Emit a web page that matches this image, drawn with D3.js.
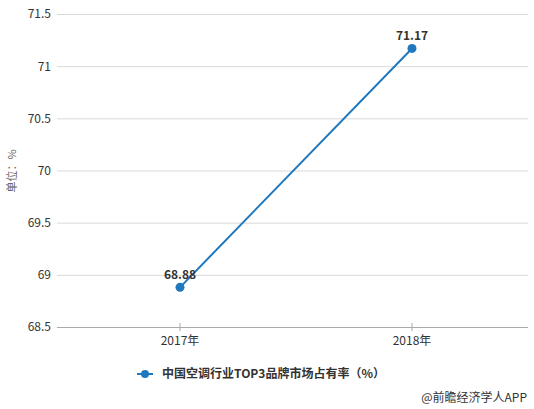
<!DOCTYPE html>
<html>
<head>
<meta charset="utf-8">
<script src="https://cdn.jsdelivr.net/npm/d3@7"></script>
<style>
  body { margin: 0; background: #fff; }
  text { font-family: "Microsoft YaHei", "Noto Sans CJK SC", sans-serif; }
</style>
</head>
<body>
<div id="chart"></div>
<script>
var years = ['2017年', '2018年'];
var shares = [68.88, 71.17];
var yTicks = [68.5, 69, 69.5, 70, 70.5, 71, 71.5];
var seriesName = '中国空调行业TOP3品牌市场占有率（%）';

var width = 534, height = 409;
var svg = d3.select('#chart')
  .append('svg')
  .attr('width', width)
  .attr('height', height);

var x = d3.scaleBand().domain(years).range([64, 528]);
var y = d3.scaleLinear().domain([68.5, 71.5]).range([327, 14]);

// grid + y labels
var axisY = d3.axisLeft(y).tickValues(yTicks).tickFormat(d3.format('')).tickSize(0).tickPadding(6);
var gy = svg.append('g')
  .attr('transform', 'translate(57,0)')
  .call(axisY);
gy.select('.domain').remove();
gy.selectAll('.tick line')
  .attr('x2', 471)
  .attr('stroke', '#d9d9d9');
gy.selectAll('.tick text')
  .attr('fill', '#333')
  .style('font-size', '12px');

// x axis
var axisX = d3.axisBottom(x).tickSize(5).tickPadding(4);
var gx = svg.append('g')
  .attr('transform', 'translate(0,327)')
  .call(axisX);
gx.select('.domain').attr('d', 'M57,0.5H528').attr('stroke', '#aaa');
gx.selectAll('.tick line').attr('stroke', '#aaa').attr('y1', -4).attr('y2', 4);
gx.selectAll('.tick text')
  .attr('fill', '#333')
  .style('font-size', '12px');

// y title
svg.append('text')
  .attr('transform', 'translate(16,171) rotate(-90)')
  .attr('text-anchor', 'middle')
  .attr('fill', '#666')
  .style('font-size', '11px')
  .text('单位：%');

var cx = function(d, i) { return x(years[i]) + x.bandwidth() / 2; };

var line = d3.line()
  .x(cx)
  .y(function(d) { return y(d); });

svg.append('path')
  .datum(shares)
  .attr('d', line)
  .attr('fill', 'none')
  .attr('stroke', '#1f78be')
  .attr('stroke-width', 2);

svg.selectAll('.dot')
  .data(shares)
  .enter()
  .append('circle')
  .attr('cx', cx)
  .attr('cy', function(d) { return y(d); })
  .attr('r', 4.5)
  .attr('fill', '#1f78be');

svg.selectAll('.lbl')
  .data(shares)
  .enter()
  .append('text')
  .attr('x', cx)
  .attr('y', function(d) { return y(d) - 8; })
  .attr('text-anchor', 'middle')
  .attr('fill', '#333')
  .style('font-size', '12px')
  .style('font-weight', 'bold')
  .text(function(d) { return d.toFixed(2); });

// legend
var lg = svg.append('g').attr('transform', 'translate(145,374)');
lg.append('line').attr('x1', -8).attr('x2', 8).attr('stroke', '#1f78be').attr('stroke-width', 2);
lg.append('circle').attr('r', 4).attr('fill', '#1f78be');
lg.append('text')
  .attr('x', 17)
  .attr('y', 4)
  .attr('fill', '#333')
  .style('font-size', '12px')
  .style('font-weight', 'bold')
  .text(seriesName);

svg.append('text')
  .attr('x', 527)
  .attr('y', 402)
  .attr('text-anchor', 'end')
  .attr('fill', '#333')
  .style('font-size', '12px')
  .text('@前瞻经济学人APP');
</script>
</body>
</html>
